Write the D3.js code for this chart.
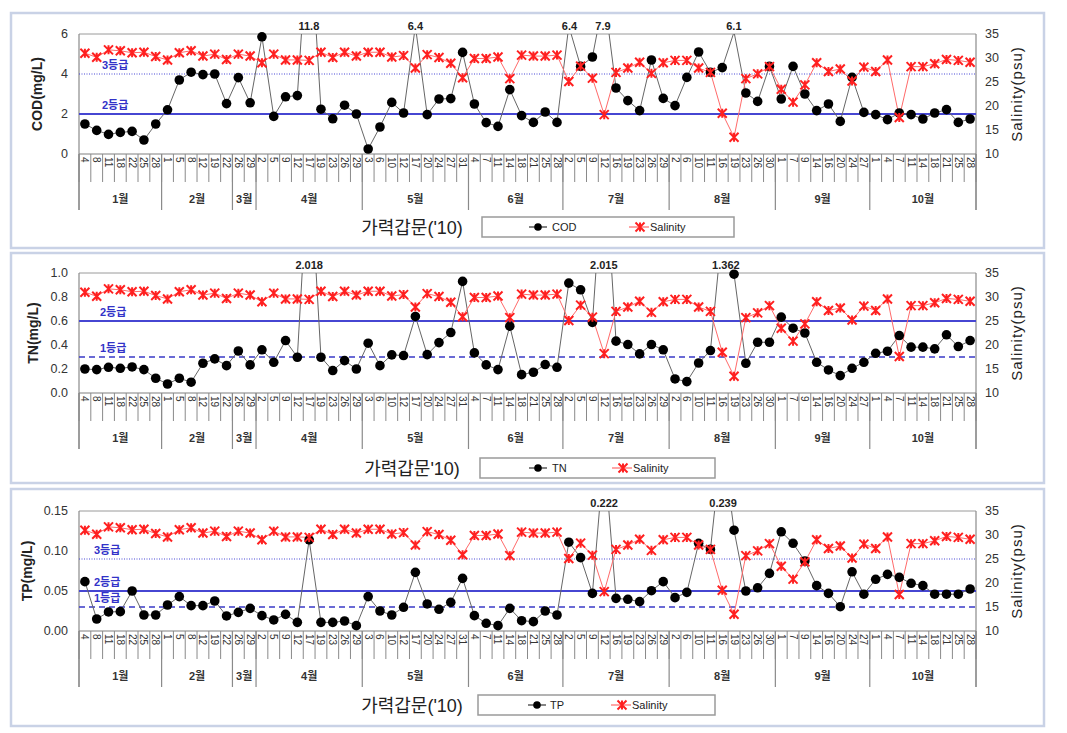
<!DOCTYPE html>
<html><head><meta charset="utf-8">
<script src="https://cdn.jsdelivr.net/npm/d3@7"></script>
<style>
body{margin:0;background:#fff;}
svg{display:block;}
text{font-family:"Liberation Sans","Noto Sans CJK KR",sans-serif;}
</style>
</head><body>
<svg id="chart" width="1067" height="733"></svg>
<script>
// ---------------- data ----------------
const days = [4,8,11,18,22,25,28, 1,5,8,12,19,22, 26,29,
  2,5,9,12,17,19,23,26,29, 3,6,10,12,17,20,24,27,31,
  4,7,11,14,18,21,25,28, 2,5,9,12,16,19,23,26,29,
  2,6,10,11,16,19,23,26,30, 1,7,9,14,16,20,24,27,
  1,4,7,11,14,18,21,25,28];
const monthLabels = ['1월','2월','3월','4월','5월','6월','7월','8월','9월','10월'];
const monthCounts = [7,6,2,9,9,8,9,9,8,9];

const salinity = [31.0,30.15,31.7,31.5,31.1,31.2,30.3,
  29.6,31.1,31.5,30.4,30.8,29.7,
  30.8,30.4,
  29.0,30.8,29.6,29.6,29.5,31.2,30.1,31.2,30.4,
  31.2,31.2,30.2,30.5,27.9,30.7,30.1,28.9,25.9,
  29.9,29.9,30.2,25.7,30.6,30.4,30.4,30.6,
  25.1,28.3,25.8,18.2,27.0,27.9,29.1,26.8,29.0,
  29.5,29.5,27.9,27.0,18.5,13.5,25.7,26.7,28.2,
  23.5,20.8,24.4,29.0,27.2,27.7,25.2,28.1,
  27.2,29.6,17.6,28.2,28.2,28.8,29.7,29.5,29.1];

const cod = [1.5,1.18,0.98,1.08,1.13,0.7,1.5,
  2.21,3.7,4.09,3.97,4.0,2.52,
  3.82,2.56,
  5.86,1.88,2.86,2.92,11.8,2.24,1.76,2.44,2.0,
  0.25,1.35,2.58,2.05,6.4,1.97,2.75,2.77,5.08,
  2.5,1.57,1.38,3.22,1.92,1.58,2.1,1.58,
  6.4,4.38,4.85,7.9,3.3,2.67,2.17,4.7,2.78,
  2.42,3.83,5.1,4.08,4.32,6.1,3.05,2.63,4.38,
  2.75,4.38,3.0,2.17,2.5,1.63,3.83,2.08,
  1.97,1.72,2.05,1.97,1.75,2.05,2.22,1.58,1.75];

const tn = [0.2,0.195,0.214,0.206,0.217,0.195,0.123,
  0.075,0.123,0.09,0.248,0.284,0.228,
  0.35,0.234,
  0.36,0.256,0.437,0.298,2.018,0.298,0.187,0.27,0.2,
  0.415,0.228,0.318,0.312,0.638,0.32,0.42,0.504,0.93,
  0.334,0.234,0.195,0.557,0.153,0.173,0.237,0.214,
  0.916,0.86,0.588,2.015,0.432,0.404,0.326,0.404,0.36,
  0.117,0.095,0.25,0.354,1.362,0.99,0.248,0.423,0.423,
  0.632,0.54,0.5,0.256,0.192,0.145,0.206,0.256,
  0.331,0.348,0.479,0.382,0.382,0.368,0.485,0.387,0.437];

const tp = [0.0617,0.015,0.0238,0.0242,0.05,0.02,0.02,
  0.0325,0.043,0.0317,0.0317,0.0375,0.0188,
  0.0233,0.0283,
  0.0192,0.0138,0.0208,0.0108,0.114,0.0108,0.0108,0.0125,0.0067,
  0.043,0.025,0.02,0.0296,0.0733,0.0338,0.0271,0.0358,0.0658,
  0.0192,0.0096,0.0067,0.0283,0.0129,0.0117,0.025,0.02,
  0.111,0.0917,0.047,0.222,0.0408,0.0396,0.0367,0.0504,0.0617,
  0.0417,0.0483,0.1096,0.102,0.239,0.126,0.05,0.054,0.072,
  0.124,0.1096,0.0875,0.0567,0.047,0.0304,0.074,0.046,
  0.0646,0.0708,0.067,0.0596,0.0567,0.046,0.046,0.046,0.0525];

const codTicks = [0,2,4,6];
const tnTicks = [0,0.2,0.4,0.6,0.8,1.0];
const tpTicks = [0,0.05,0.10,0.15];
const salTicks = [10,15,20,25,30,35];

const codGrades = [4,2];       const codGradeLabels = ['3등급','2등급'];
const tnGrades = [0.6,0.3];    const tnGradeLabels = ['2등급','1등급'];
const tpGrades = [0.09,0.05,0.03]; const tpGradeLabels = ['3등급','2등급','1등급'];

// ---------------- layout ----------------
const svg = d3.select('#chart');
const X0 = 79, X1 = 976, PH = 120;
const x = d3.scaleBand().domain(d3.range(days.length)).range([X0, X1]).paddingInner(0).paddingOuter(0);
const bw = x.bandwidth();
const cx = i => x(i) + bw/2;

const gradeStyle = {
  '3등급': {dash:'1,1.5', w:1.1, c:'#4a4ad6'},
  '2등급': {dash:null, w:2, c:'#4646d2'},
  '1등급': {dash:'6,4', w:1.5, c:'#3a3ac8'}
};

const panels = [
  {top:34, fTop:13, fBot:248, data:cod, name:'COD', ylab:'COD(mg/L)', ylabX:37, domain:[0,6], ticks:codTicks, fmt:d3.format('d'),
   grades:codGrades, gradeLabels:codGradeLabels, gradeX:102, xtitle:"가력갑문('10)", leg:[482,217,252], legItems:[538,552,640,650], offFmt:d3.format('.1f')},
  {top:273, fTop:253, fBot:483, data:tn, name:'TN', ylab:'TN(mg/L)', ylabX:33, domain:[0,1], ticks:tnTicks, fmt:d3.format('.1f'),
   grades:tnGrades, gradeLabels:tnGradeLabels, gradeX:100, xtitle:"가력갑문'10)", leg:[480,458,235], legItems:[538,552,623,633], offFmt:d3.format('.3f')},
  {top:511, fTop:489, fBot:726, data:tp, name:'TP', ylab:'TP(mg/L)', ylabX:27, domain:[0,0.15], ticks:tpTicks, fmt:d3.format('.2f'),
   grades:tpGrades, gradeLabels:tpGradeLabels, gradeX:94, xtitle:"가력갑문('10)", leg:[478,695,237], legItems:[537,550,622,632], offFmt:d3.format('.3f')}
];

function salMarker(g, px, py, s){
  const h = 4.5;
  g.append('path')
    .attr('d', `M${px-h},${py-h}L${px+h},${py+h}M${px-h},${py+h}L${px+h},${py-h}M${px},${py-h}L${px},${py+h}`)
    .attr('stroke', s || '#ff2020').attr('stroke-width', 2).attr('fill','none');
}

panels.forEach((p, pi) => {
  const T = p.top, B = T + PH;
  const g = svg.append('g');
  const y = d3.scaleLinear().domain(p.domain).range([B, T]);
  const y2 = d3.scaleLinear().domain([10,35]).range([B, T]);

  // frame
  g.append('rect').attr('x', 11).attr('y', p.fTop).attr('width', 1033).attr('height', p.fBot - p.fTop)
    .attr('fill','#fff').attr('stroke','#c9d2e6').attr('stroke-width',2.5);

  // clip
  const cid = 'clip'+pi;
  g.append('clipPath').attr('id', cid).append('rect').attr('x', X0).attr('y', T).attr('width', X1-X0).attr('height', PH);

  // plot frame lines
  g.append('line').attr('x1', X0).attr('x2', X1).attr('y1', T).attr('y2', T).attr('stroke','#9a9a9a').attr('stroke-width',1);
  g.append('line').attr('x1', X0).attr('x2', X0).attr('y1', T).attr('y2', B+56).attr('stroke','#8a8a8a').attr('stroke-width',1.2);
  g.append('line').attr('x1', X1).attr('x2', X1).attr('y1', T).attr('y2', B+56).attr('stroke','#8a8a8a').attr('stroke-width',1.2);
  g.append('line').attr('x1', X0).attr('x2', X1).attr('y1', B).attr('y2', B).attr('stroke','#808080').attr('stroke-width',1.2);

  // left axis labels
  g.selectAll('.yl').data(p.ticks).enter().append('text')
    .attr('x', 68).attr('y', d => y(d)).attr('dy','0.35em').attr('text-anchor','end')
    .attr('font-size', 12.5).attr('fill','#333').text(p.fmt);
  // right axis labels
  g.selectAll('.yr').data(salTicks).enter().append('text')
    .attr('x', 985).attr('y', d => y2(d)).attr('dy','0.35em').attr('text-anchor','start')
    .attr('font-size', 12.5).attr('fill','#333').text(d => d);

  // axis titles
  g.append('text').attr('transform', `translate(${p.ylabX},${T+60}) rotate(-90)`).attr('text-anchor','middle')
    .attr('dy','0.35em').attr('font-size', 14).attr('font-weight','bold').attr('fill','#222').text(p.ylab);
  g.append('text').attr('transform', `translate(1017,${T+60}) rotate(-90)`).attr('text-anchor','middle')
    .attr('dy','0.35em').attr('font-size', 15).attr('letter-spacing', 1).attr('fill','#222').text('Salinity(psu)');

  // category ticks at boundaries
  const bounds = d3.range(days.length + 1).map(i => i < days.length ? x(i) : X1);
  g.selectAll('.tk').data(bounds).enter().append('line')
    .attr('x1', d => d).attr('x2', d => d).attr('y1', B).attr('y2', B+28)
    .attr('stroke','#8a8a8a').attr('stroke-width',1);
  // day labels
  g.selectAll('.dl').data(days).enter().append('text')
    .attr('transform', (d,i) => `translate(${cx(i)},${B+3}) rotate(90)`)
    .attr('dy','0.35em').attr('font-size', 10).attr('fill','#333').attr('text-anchor','start').text(d => d);
  // month separators & labels
  const cum = [0]; monthCounts.forEach(c => cum.push(cum[cum.length-1] + c));
  g.selectAll('.ms').data(cum).enter().append('line')
    .attr('x1', d => d < days.length ? x(d) : X1).attr('x2', d => d < days.length ? x(d) : X1)
    .attr('y1', B).attr('y2', B+56).attr('stroke','#8a8a8a').attr('stroke-width',1.2);
  g.selectAll('.ml').data(monthLabels).enter().append('text')
    .attr('x', (d,i) => { const a = x(cum[i]); const b = cum[i+1] < days.length ? x(cum[i+1]) : X1; return (a+b)/2; })
    .attr('y', B+49).attr('text-anchor','middle').attr('font-size', 11).attr('font-weight','bold').attr('fill','#333').text(d => d);

  // grade lines
  p.grades.forEach((v, k) => {
    const st = gradeStyle[p.gradeLabels[k]];
    g.append('line').attr('x1', X0).attr('x2', X1).attr('y1', y(v)).attr('y2', y(v))
      .attr('stroke', st.c).attr('stroke-width', st.w).attr('stroke-dasharray', st.dash);
    g.append('text').attr('x', p.gradeX).attr('y', y(v) - 5).attr('font-size', 11).attr('font-weight','bold')
      .attr('fill','#3232c8').text(p.gradeLabels[k]);
  });

  // primary series line
  const line = d3.line().x((d,i) => cx(i)).y(d => y(d));
  g.append('path').datum(p.data).attr('d', line).attr('fill','none').attr('stroke','#666').attr('stroke-width',1)
    .attr('clip-path', `url(#${cid})`);
  // salinity line
  const sline = d3.line().x((d,i) => cx(i)).y(d => y2(d));
  g.append('path').datum(salinity).attr('d', sline).attr('fill','none').attr('stroke','#ff6a6a').attr('stroke-width',1);

  // primary dots
  g.selectAll('.pt').data(p.data.map((v,i) => ({v,i})).filter(d => d.v <= p.domain[1])).enter().append('circle')
    .attr('cx', d => cx(d.i)).attr('cy', d => y(d.v)).attr('r', 4.8).attr('fill','#000');
  // salinity markers
  salinity.forEach((s, i) => salMarker(g, cx(i), y2(s)));

  // off-scale labels
  const top = p.domain[1];
  p.data.forEach((v, i) => {
    if (v <= top) return;
    const prev = p.data[i-1], next = p.data[i+1];
    let xa = cx(i), xb = cx(i);
    if (prev !== undefined && prev < top) xa = cx(i-1) + (top - prev)/(v - prev)*bw;
    if (next !== undefined && next < top) xb = cx(i) + (v - top)/(v - next)*bw;
    g.append('text').attr('x', (xa+xb)/2).attr('y', T - 4).attr('text-anchor','middle')
      .attr('font-size', 11).attr('font-weight','bold').attr('fill','#222').text(p.offFmt(v));
  });

  // x title
  g.append('text').attr('x', 412).attr('y', p.leg[1] + 17).attr('text-anchor','middle')
    .attr('font-size', 18).attr('fill','#222').text(p.xtitle);

  // legend
  const [lx, ly, lw] = p.leg;
  g.append('rect').attr('x', lx).attr('y', ly).attr('width', lw).attr('height', 20)
    .attr('fill','#fff').attr('stroke','#9a9a9a').attr('stroke-width',1.5);
  const [m1, t1, m2, t2] = p.legItems;
  const my = ly + 10;
  g.append('line').attr('x1', m1-9).attr('x2', m1+9).attr('y1', my).attr('y2', my).attr('stroke','#333').attr('stroke-width',1.2);
  g.append('circle').attr('cx', m1).attr('cy', my).attr('r', 3.8).attr('fill','#000');
  g.append('text').attr('x', t1).attr('y', my).attr('dy','0.35em').attr('font-size', 11).attr('fill','#222').text(p.name);
  g.append('line').attr('x1', m2-11).attr('x2', m2+9).attr('y1', my).attr('y2', my).attr('stroke','#ff6a6a').attr('stroke-width',1.2);
  salMarker(g, m2, my);
  g.append('text').attr('x', t2).attr('y', my).attr('dy','0.35em').attr('font-size', 11).attr('fill','#222').text('Salinity');
});
</script>
</body></html>
